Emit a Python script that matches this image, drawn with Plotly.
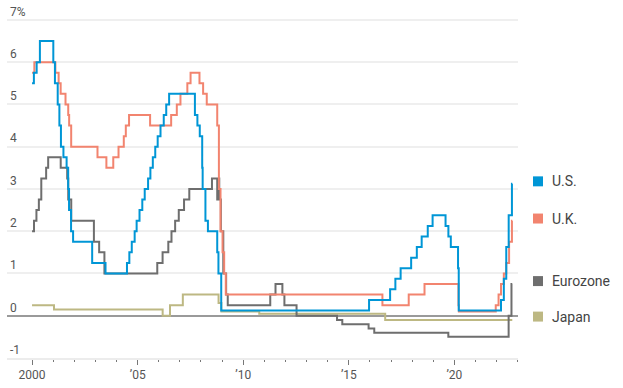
import plotly.graph_objects as go

# ---------------- data (policy rates, %) ----------------
us_dates = ["2000-01-01", "2000-02-02", "2000-03-21", "2000-05-16", "2001-01-03", "2001-01-31",
            "2001-03-20", "2001-04-18", "2001-05-15", "2001-06-27", "2001-08-21", "2001-09-17",
            "2001-10-02", "2001-11-06", "2001-12-11", "2002-11-06", "2003-06-25", "2004-06-30",
            "2004-08-10", "2004-09-21", "2004-11-10", "2004-12-14", "2005-02-02", "2005-03-22",
            "2005-05-03", "2005-06-30", "2005-08-09", "2005-09-20", "2005-11-01", "2005-12-13",
            "2006-01-31", "2006-03-28", "2006-05-10", "2006-06-29", "2007-09-18", "2007-10-31",
            "2007-12-11", "2008-01-22", "2008-01-30", "2008-03-18", "2008-04-30", "2008-10-08",
            "2008-10-29", "2008-12-16", "2015-12-17", "2016-12-15", "2017-03-16", "2017-06-15",
            "2017-12-14", "2018-03-22", "2018-06-14", "2018-09-27", "2018-12-20", "2019-08-01",
            "2019-09-19", "2019-10-31", "2020-03-04", "2020-03-16", "2022-03-17", "2022-05-05",
            "2022-06-16", "2022-07-28", "2022-09-22", "2022-09-28"]
us_values = [5.5, 5.75, 6.0, 6.5, 6.0, 5.5,
             5.0, 4.5, 4.0, 3.75, 3.5, 3.0,
             2.5, 2.0, 1.75, 1.25, 1.0, 1.25,
             1.5, 1.75, 2.0, 2.25, 2.5, 2.75,
             3.0, 3.25, 3.5, 3.75, 4.0, 4.25,
             4.5, 4.75, 5.0, 5.25, 4.75, 4.5,
             4.25, 3.5, 3.0, 2.25, 2.0, 1.5,
             1.0, 0.125, 0.375, 0.625, 0.875, 1.125,
             1.375, 1.625, 1.875, 2.125, 2.375, 2.125,
             1.875, 1.625, 1.125, 0.125, 0.375, 0.875,
             1.625, 2.375, 3.125, 3.125]

uk_dates = ["2000-01-01", "2000-02-10", "2001-02-08", "2001-04-05", "2001-05-10", "2001-08-02",
            "2001-09-18", "2001-10-04", "2001-11-08", "2003-02-06", "2003-07-10", "2003-11-06",
            "2004-02-05", "2004-05-06", "2004-06-10", "2004-08-05", "2005-08-04", "2006-08-03",
            "2006-11-09", "2007-01-11", "2007-05-10", "2007-07-05", "2007-12-06", "2008-02-07",
            "2008-04-10", "2008-10-08", "2008-11-06", "2008-12-04", "2009-01-08", "2009-02-05",
            "2009-03-05", "2016-08-04", "2017-11-02", "2018-08-02", "2020-03-11", "2020-03-19",
            "2021-12-16", "2022-02-03", "2022-03-17", "2022-05-05", "2022-06-16", "2022-08-04",
            "2022-09-22", "2022-09-28"]
uk_values = [5.75, 6.0, 5.75, 5.5, 5.25, 5.0,
             4.75, 4.5, 4.0, 3.75, 3.5, 3.75,
             4.0, 4.25, 4.5, 4.75, 4.5, 4.75,
             5.0, 5.25, 5.5, 5.75, 5.5, 5.25,
             5.0, 4.5, 3.0, 2.0, 1.5, 1.0,
             0.5, 0.25, 0.5, 0.75, 0.25, 0.1,
             0.25, 0.5, 0.75, 1.0, 1.25, 1.75,
             2.25, 2.25]

ez_dates = ["2000-01-01", "2000-02-04", "2000-03-17", "2000-04-28", "2000-06-09", "2000-09-01",
            "2000-10-06", "2001-05-11", "2001-08-31", "2001-09-18", "2001-11-09", "2002-12-06",
            "2003-03-07", "2003-06-06", "2005-12-06", "2006-03-08", "2006-06-15", "2006-08-09",
            "2006-10-11", "2006-12-13", "2007-03-14", "2007-06-13", "2008-07-09", "2008-10-08",
            "2008-10-15", "2008-11-12", "2008-12-10", "2009-01-21", "2009-03-11", "2009-04-08",
            "2011-04-13", "2011-07-13", "2011-11-09", "2011-12-14", "2012-07-11", "2014-06-11",
            "2014-09-10", "2015-12-09", "2016-03-16", "2019-09-18", "2022-07-27", "2022-09-14",
            "2022-09-28"]
ez_values = [2.0, 2.25, 2.5, 2.75, 3.25, 3.5,
             3.75, 3.5, 3.25, 2.75, 2.25, 1.75,
             1.5, 1.0, 1.25, 1.5, 1.75, 2.0,
             2.25, 2.5, 2.75, 3.0, 3.25, 2.75,
             3.25, 2.75, 2.0, 1.0, 0.5, 0.25,
             0.5, 0.75, 0.5, 0.25, 0.0, -0.1,
             -0.2, -0.3, -0.4, -0.5, 0.0, 0.75,
             0.75]

jp_dates = ["2000-01-01", "2001-01-15", "2006-03-09", "2006-07-14", "2007-02-21", "2008-10-31",
            "2008-12-19", "2010-10-05", "2016-09-21", "2022-09-28"]
jp_values = [0.25, 0.15, 0.0, 0.25, 0.5, 0.3,
             0.1, 0.05, -0.1, -0.1]

series_names = ["Japan", "Eurozone", "U.K.", "U.S."]
series_colors = ["#bdb883", "#6e6e6e", "#f2846f", "#0096d6"]
label_y = [-0.02, 0.82, 2.3, 3.18]   # legend label vertical positions

y_tickvals = [-1, 0, 1, 2, 3, 4, 5, 6, 7]
y_ticktext = ["-1", "0", "1", "2", "3", "4", "5", "6", "7%"]
x_tickvals = ["2000-01-01", "2005-01-01", "2010-01-01", "2015-01-01", "2020-01-01"]
x_ticktext = ["2000", "’05", "’10", "’15", "’20"]

# ---------------- figure ----------------
fig = go.Figure()
all_dates = [jp_dates, ez_dates, uk_dates, us_dates]
all_vals = [jp_values, ez_values, uk_values, us_values]
for name, col, d, v in zip(series_names, series_colors, all_dates, all_vals):
    fig.add_trace(go.Scatter(x=d, y=v, mode="lines", name=name,
                             line=dict(color=col, width=2, shape="hv"),
                             hoverinfo="x+y+name"))

font_family = "Roboto, 'Noto Sans', sans-serif"

# custom legend: coloured squares + labels on the right
for name, col, ly in zip(series_names, series_colors, label_y):
    fig.add_shape(type="rect", xref="paper", yref="y",
                  x0=1.0294, x1=1.0489, y0=ly - 0.118, y1=ly + 0.118,
                  fillcolor=col, line=dict(width=0), layer="above")
    fig.add_annotation(xref="paper", yref="y", x=1.0626, y=ly, text=name,
                       showarrow=False, xanchor="left", yanchor="middle",
                       font=dict(family=font_family, size=14, color="#444"))

fig.update_layout(
    width=623, height=388,
    margin=dict(l=7, r=105, t=3, b=30),
    paper_bgcolor="white", plot_bgcolor="white",
    showlegend=False,
    font=dict(family=font_family, size=12, color="#555"),
    xaxis=dict(
        type="date",
        range=["1998-10-25", "2023-01-05"],
        tickvals=x_tickvals, ticktext=x_ticktext,
        ticks="outside", ticklen=5, tickwidth=1, tickcolor="#777",
        showgrid=False, zeroline=False,
        showline=True, linecolor="#ececec", linewidth=2,
        minor=dict(dtick="M12", tick0="2000-01-01", ticks="outside",
                   ticklen=2, tickwidth=1, tickcolor="#777", showgrid=False),
        tickfont=dict(size=12, color="#555"),
        automargin=False,
        fixedrange=True,
    ),
    yaxis=dict(
        range=[-1, 7.4],
        tickvals=y_tickvals, ticktext=y_ticktext,
        ticklabelposition="inside top", ticks="",
        showgrid=True, gridcolor="#efefef", gridwidth=2,
        zeroline=True, zerolinecolor="#9a9a9a", zerolinewidth=2,
        showline=False,
        tickfont=dict(size=12, color="#555"),
        automargin=False,
        fixedrange=True,
    ),
)

fig.write_html("out.html", config={"displayModeBar": False},
               post_script="document.body.style.margin='0px';")
